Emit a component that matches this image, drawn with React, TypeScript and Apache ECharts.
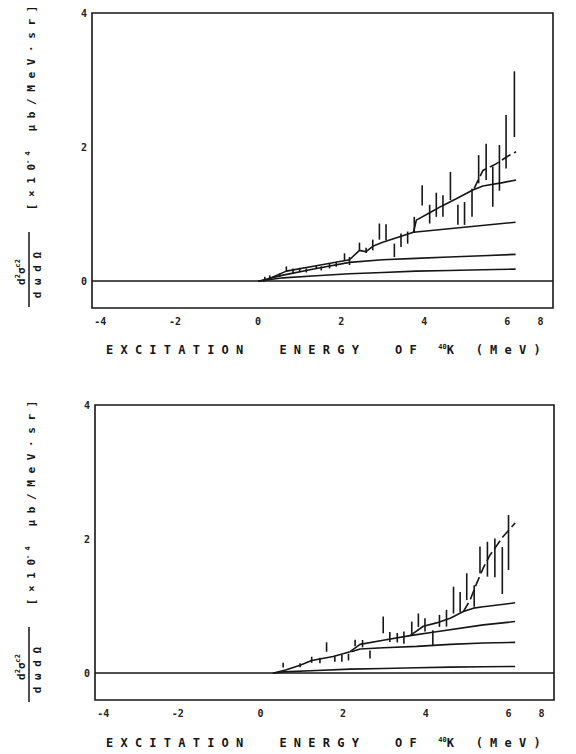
import React, { useEffect, useRef } from "react";
import * as echarts from "echarts";

// ---- axis ticks ----
const xTickPos = [-3.8, -2, 0, 2, 4, 6, 6.8];
const xTickLabels = ["-4", "-2", "0", "2", "4", "6", "8"];
const yTickValues = [0, 2, 4];

// ---- upper panel: measured points (energy MeV, value, error) ----
const topE = [0.16, 0.28, 0.52, 0.68, 0.84, 1.0, 1.16, 1.4, 1.52, 1.72, 1.88, 2.08, 2.2, 2.44, 2.6, 2.76, 2.92, 3.08, 3.28, 3.44, 3.6, 3.76, 3.95, 4.13, 4.29, 4.45, 4.63, 4.81, 4.97, 5.15, 5.31, 5.49, 5.65, 5.81, 5.97, 6.17];
const topV = [0.045, 0.057, 0.09, 0.18, 0.15, 0.17, 0.16, 0.21, 0.19, 0.23, 0.25, 0.36, 0.3, 0.52, 0.46, 0.54, 0.74, 0.73, 0.46, 0.61, 0.65, 0.84, 1.28, 1.0, 1.14, 1.12, 1.42, 0.99, 1.01, 1.17, 1.67, 1.78, 1.41, 1.69, 2.08, 2.64];
const topD = [0.02, 0.03, 0.025, 0.04, 0.04, 0.03, 0.03, 0.03, 0.03, 0.04, 0.035, 0.055, 0.06, 0.055, 0.04, 0.08, 0.12, 0.12, 0.1, 0.1, 0.09, 0.12, 0.15, 0.14, 0.18, 0.16, 0.21, 0.15, 0.17, 0.21, 0.21, 0.27, 0.3, 0.34, 0.4, 0.49];

// upper panel curves
const topC1X = [0, 0.6, 1.4, 2.2, 3.0, 3.8, 4.6, 5.4, 6.2];
const topC1Y = [0, 0.05, 0.08, 0.11, 0.13, 0.15, 0.16, 0.17, 0.18];
const topC2X = [0, 0.6, 1.4, 2.2, 3.0, 3.8, 4.6, 5.4, 6.2];
const topC2Y = [0, 0.09, 0.19, 0.28, 0.32, 0.34, 0.36, 0.38, 0.4];
const topC3X = [0.12, 0.68, 1.4, 2.2, 2.44, 2.6, 2.76, 3.0, 3.74, 4.9, 6.2];
const topC3Y = [0.0, 0.15, 0.23, 0.32, 0.46, 0.44, 0.52, 0.58, 0.73, 0.8, 0.88];
const topC4X = [3.74, 3.81, 4.13, 4.45, 4.77, 5.17, 5.41, 5.89, 6.21];
const topC4Y = [0.73, 0.91, 1.02, 1.13, 1.23, 1.36, 1.42, 1.47, 1.51];
const topC5X = [5.2, 5.41, 5.73, 6.0, 6.21];
const topC5Y = [1.38, 1.65, 1.75, 1.86, 1.93];

// ---- lower panel: measured points ----
const botE = [0.55, 0.96, 1.24, 1.44, 1.6, 1.8, 1.97, 2.13, 2.29, 2.47, 2.65, 2.97, 3.13, 3.31, 3.47, 3.66, 3.82, 3.98, 4.17, 4.33, 4.5, 4.67, 4.83, 4.99, 5.17, 5.31, 5.49, 5.67, 5.85, 6.0];
const botV = [0.12, 0.12, 0.2, 0.19, 0.39, 0.21, 0.22, 0.24, 0.45, 0.44, 0.28, 0.72, 0.54, 0.53, 0.53, 0.67, 0.79, 0.72, 0.53, 0.78, 0.82, 1.09, 1.06, 1.29, 1.15, 1.69, 1.7, 1.72, 1.53, 1.95];
const botD = [0.035, 0.03, 0.045, 0.04, 0.07, 0.04, 0.05, 0.05, 0.05, 0.055, 0.06, 0.125, 0.075, 0.07, 0.09, 0.1, 0.1, 0.1, 0.11, 0.09, 0.125, 0.2, 0.15, 0.2, 0.16, 0.2, 0.26, 0.29, 0.35, 0.41];

// lower panel curves
const botC1X = [0.3, 0.55, 1.36, 2.17, 2.97, 3.78, 4.59, 5.39, 6.16];
const botC1Y = [0, 0.02, 0.04, 0.06, 0.07, 0.08, 0.09, 0.095, 0.1];
const botC2X = [2.2, 2.41, 2.97, 3.78, 4.59, 5.39, 6.16];
const botC2Y = [0.32, 0.36, 0.38, 0.4, 0.43, 0.45, 0.46];
const botC3X = [0.3, 0.63, 0.96, 1.24, 1.76, 2.17, 2.41, 2.97, 3.62, 4.17, 5.39, 6.16];
const botC3Y = [0, 0.05, 0.12, 0.19, 0.25, 0.32, 0.43, 0.49, 0.56, 0.61, 0.72, 0.77];
const botC4X = [3.62, 3.94, 4.26, 4.59, 4.91, 5.15, 5.39, 6.16];
const botC4Y = [0.56, 0.7, 0.75, 0.82, 0.92, 0.97, 0.99, 1.05];
const botC5X = [4.91, 5.07, 5.23, 5.39, 5.55, 5.87, 6.16];
const botC5Y = [0.92, 1.09, 1.34, 1.57, 1.76, 2.04, 2.24];

const INK = "#161616";
const MONO = "DejaVu Sans Mono";

const zip = (xs: number[], ys: number[]) => xs.map((x, i) => [x, ys[i]]);

function lineSeries(gi: number, xs: number[], ys: number[], dashed = false, extra: any = {}) {
  return {
    type: "line",
    xAxisIndex: gi,
    yAxisIndex: gi,
    data: zip(xs, ys),
    showSymbol: false,
    symbol: "none",
    lineStyle: { color: INK, width: 1.6, type: dashed ? [10, 4] : "solid" },
    itemStyle: { color: INK },
    z: 3,
    ...extra,
  };
}

function errorSeries(gi: number, es: number[], vs: number[], ds: number[]) {
  return {
    type: "custom",
    xAxisIndex: gi,
    yAxisIndex: gi,
    data: es.map((e, i) => [e, vs[i], ds[i]]),
    encode: { x: 0, y: 1 },
    z: 4,
    renderItem: (_p: any, api: any) => {
      const x = api.value(0);
      const y = api.value(1);
      const d = api.value(2);
      const a = api.coord([x, y - d]);
      const b = api.coord([x, y + d]);
      return {
        type: "line",
        shape: { x1: a[0], y1: a[1], x2: b[0], y2: b[1] },
        style: { stroke: INK, lineWidth: 1.6 },
      };
    },
  };
}

const baseline = {
  silent: true,
  symbol: ["none", "none"],
  label: { show: false },
  lineStyle: { color: INK, width: 1.6, type: "solid" },
  data: [{ yAxis: 0 }],
};

function titleText(y: number) {
  return {
    type: "text",
    x: 106,
    y,
    style: {
      text: "{a|E X C I T A T I O N     E N E R G Y     O F   }{s|40}{a|K   ( M e V )}",
      align: "left",
      verticalAlign: "middle",
      fill: INK,
      rich: {
        a: { fontFamily: MONO, fontSize: 12, fontWeight: "bold", fill: INK, lineHeight: 14 },
        s: { fontFamily: MONO, fontSize: 7, fontWeight: "bold", fill: INK, verticalAlign: "top", lineHeight: 14 },
      },
    },
  };
}

function yTitle(cy: number) {
  // cy: vertical offset of the panel (0 for upper, ~395 for lower)
  const rot = Math.PI / 2;
  return [
    {
      type: "text",
      x: 31,
      y: 108 + cy,
      rotation: rot,
      style: {
        text: "{a|[ × 1 0}{s|- 4}{a|   μ b / M e V · s r ]}",
        align: "center",
        verticalAlign: "middle",
        fill: INK,
        rich: {
          a: { fontFamily: MONO, fontSize: 11, fontWeight: "bold", fill: INK, lineHeight: 13 },
          s: { fontFamily: MONO, fontSize: 7, fontWeight: "bold", fill: INK, verticalAlign: "top", lineHeight: 13 },
        },
      },
    },
    {
      type: "text",
      x: 21,
      y: 272 + cy,
      rotation: rot,
      style: {
        text: "{a|d}{s|2}{a|σ}{s|c2}",
        align: "center",
        verticalAlign: "middle",
        fill: INK,
        rich: {
          a: { fontFamily: MONO, fontSize: 11, fontWeight: "bold", fill: INK, lineHeight: 13 },
          s: { fontFamily: MONO, fontSize: 7, fontWeight: "bold", fill: INK, verticalAlign: "top", lineHeight: 13 },
        },
      },
    },
    {
      type: "line",
      shape: { x1: 29, y1: 232 + cy, x2: 29, y2: 307 + cy },
      style: { stroke: INK, lineWidth: 1.5 },
    },
    {
      type: "text",
      x: 37,
      y: 275 + cy,
      rotation: rot,
      style: {
        text: "d ω d Ω",
        align: "center",
        verticalAlign: "middle",
        fill: INK,
        fontFamily: MONO,
        fontSize: 11,
        fontWeight: "bold",
      },
    },
  ];
}

const labelStyle = { fontFamily: MONO, fontSize: 10, fontWeight: "bold", color: "#222" };

export default function App() {
  const ref = useRef<HTMLDivElement>(null);
  useEffect(() => {
    if (!ref.current) return;
    const chart = echarts.init(ref.current, undefined, { renderer: "svg" });
    const grids = [
      { left: 92, top: 13, width: 461, height: 295 },
      { left: 95, top: 405, width: 459, height: 295 },
    ];
    const option: any = {
      animation: false,
      backgroundColor: "#ffffff",
      grid: grids.map((g) => ({ ...g, show: true, borderColor: INK, borderWidth: 1.6, backgroundColor: "transparent" })),
      xAxis: [0, 1].map((i) => ({
        type: "value",
        gridIndex: i,
        min: -4,
        max: 7.1,
        axisLine: { show: false },
        axisTick: { show: false },
        splitLine: { show: false },
        axisLabel: {
          customValues: xTickPos,
          margin: 8,
          ...labelStyle,
          formatter: (v: number) => {
            const k = xTickPos.findIndex((p) => Math.abs(p - v) < 1e-6);
            return k >= 0 ? xTickLabels[k] : "";
          },
        },
      })),
      yAxis: [0, 1].map((i) => ({
        type: "value",
        gridIndex: i,
        min: -0.4,
        max: 4,
        axisLine: { show: false },
        axisTick: { show: false },
        splitLine: { show: false },
        axisLabel: {
          customValues: yTickValues,
          margin: 5,
          ...labelStyle,
          formatter: (v: number) => String(Math.round(v)),
        },
      })),
      series: [
        lineSeries(0, topC1X, topC1Y, false, { markLine: baseline }),
        lineSeries(0, topC2X, topC2Y),
        lineSeries(0, topC3X, topC3Y),
        lineSeries(0, topC4X, topC4Y),
        lineSeries(0, topC5X, topC5Y, true),
        errorSeries(0, topE, topV, topD),
        lineSeries(1, botC1X, botC1Y, false, { markLine: baseline }),
        lineSeries(1, botC2X, botC2Y),
        lineSeries(1, botC3X, botC3Y),
        lineSeries(1, botC4X, botC4Y),
        lineSeries(1, botC5X, botC5Y, true),
        errorSeries(1, botE, botV, botD),
      ],
      graphic: [titleText(350), titleText(743), ...yTitle(0), ...yTitle(395)],
    };
    chart.setOption(option);
    return () => chart.dispose();
  }, []);
  return (
    <div
      ref={ref}
      style={{ position: "fixed", left: 0, top: 0, width: 576, height: 754, background: "#fff" }}
    />
  );
}
